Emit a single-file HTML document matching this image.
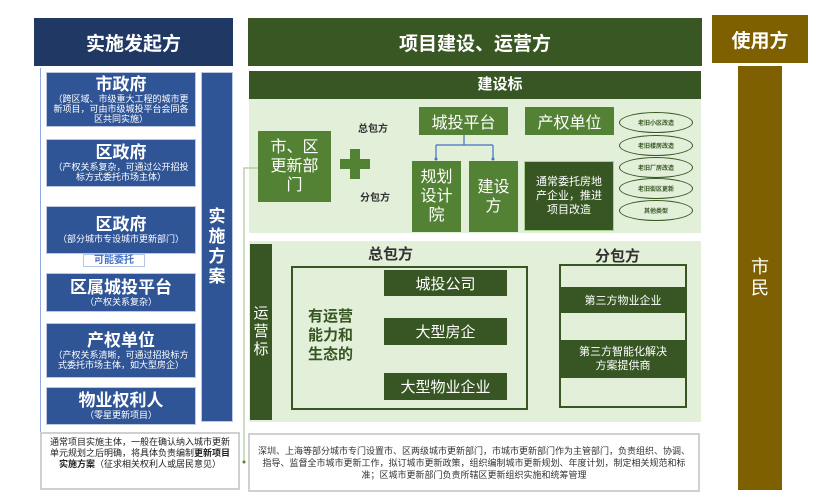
<!DOCTYPE html>
<html><head><meta charset="utf-8"><style>
body{margin:0;width:831px;height:504px;background:#fff;position:relative;overflow:hidden;font-family:"Liberation Sans","Noto Sans CJK SC",sans-serif}
div{position:absolute;box-sizing:border-box}
.c{display:flex;align-items:center;justify-content:center;text-align:center;flex-direction:column}
.b{background:#2f5597;color:#fff;border:1px solid #bcc8e0}
.b .t{font-size:17px;line-height:18px;font-weight:bold}
.b .s{font-size:9px;line-height:10px;padding:0 3px}
.g{background:#548235;color:#fff}
.dg{background:#375623;color:#fff}
.el{border:1.5px solid #375623;border-radius:50%;background:#e2efd9;font-size:6px;color:#375623;font-weight:bold}
</style></head><body>
<!-- headers -->
<div class="c" style="left:34px;top:18px;width:199px;height:48px;background:#203864;color:#fff;font-size:19px;font-weight:bold">实施发起方</div>
<div class="c" style="left:248px;top:18px;width:454px;height:48px;background:#385723;color:#fff;font-size:19px;font-weight:bold">项目建设、运营方</div>
<div class="c" style="left:712px;top:15px;width:96px;height:48px;background:#7f6000;color:#fff;font-size:19px;font-weight:bold">使用方</div>
<div class="c" style="left:738px;top:66px;width:44px;height:424px;background:#7f6000;color:#fff;font-size:18px;line-height:21px">市<br>民</div>

<!-- left -->
<div style="left:40px;top:68px;width:1px;height:364px;background:#8faadc"></div>
<div class="c b" style="left:46px;top:72px;width:150px;height:55px"><span class="t">市政府</span><span class="s">（跨区域、市级重大工程的城市更新项目，可由市级城投平台会同各区共同实施）</span></div>
<div class="c b" style="left:46px;top:139px;width:150px;height:48px"><span class="t">区政府</span><span class="s">（产权关系复杂，可通过公开招投标方式委托市场主体）</span></div>
<div class="c b" style="left:46px;top:206px;width:150px;height:48px"><span class="t">区政府</span><span class="s">（部分城市专设城市更新部门）</span></div>
<div style="left:83px;top:254px;width:62px;height:13px;border:1px solid #b4c7e7;background:#fff;color:#4472c4;font-size:10px;font-weight:bold;text-align:center;line-height:11px">可能委托</div>
<div class="c b" style="left:46px;top:273px;width:150px;height:39px"><span class="t">区属城投平台</span><span class="s">（产权关系复杂）</span></div>
<div class="c b" style="left:46px;top:323px;width:150px;height:55px"><span class="t">产权单位</span><span class="s">（产权关系清晰，可通过招投标方式委托市场主体，如大型房企）</span></div>
<div class="c b" style="left:46px;top:387px;width:150px;height:38px"><span class="t">物业权利人</span><span class="s">（零星更新项目）</span></div>
<div class="c b" style="left:201px;top:72px;width:32px;height:350px;font-size:17px;line-height:20px;font-weight:bold">实<br>施<br>方<br>案</div>
<div style="left:40px;top:432px;width:200px;height:58px;border:2px solid #d0d0d0;font-size:9px;line-height:11px;color:#222;padding:3px 4px;text-align:center">通常项目实施主体，一般在确认纳入城市更新单元规划之后明确，将具体负责编制<b>更新项目实施方案</b>（征求相关权利人或居民意见）</div>

<!-- construction -->
<div style="left:249px;top:71px;width:452px;height:28px;background:#375623;color:#fff;font-size:15px;font-weight:bold;line-height:28px;text-align:center">&nbsp;&nbsp;&nbsp;&nbsp;&nbsp;&nbsp;&nbsp;&nbsp;&nbsp;&nbsp;&nbsp;&nbsp;建设标</div>
<div style="left:249px;top:99px;width:452px;height:134px;background:#e2efd9"></div>
<div class="c g" style="left:258px;top:131px;width:73px;height:71px;font-size:16px;line-height:19px">市、区<br>更新部<br>门</div>
<div style="left:350px;top:149px;width:10px;height:30px;background:#548235"></div>
<div style="left:340px;top:159px;width:30px;height:10px;background:#548235"></div>
<div style="left:358px;top:120px;font-size:10px;font-weight:bold;color:#333">总包方</div>
<div style="left:360px;top:189px;font-size:10px;font-weight:bold;color:#333">分包方</div>
<div class="c g" style="left:419px;top:107px;width:89px;height:28px;font-size:16px">城投平台</div>
<svg style="position:absolute;left:0;top:0" width="831" height="504">
<path d="M464 135V145M436 145H493M436 145V160M493 145V160" stroke="#4472c4" stroke-width="1.2" fill="none"/>
<circle cx="436" cy="159" r="1.5" fill="#4472c4"/><circle cx="493" cy="159" r="1.5" fill="#4472c4"/>
<path d="M258 168H244V462" stroke="#a9c79a" stroke-width="1.2" fill="none"/>
<circle cx="244" cy="462" r="1.5" fill="#548235"/>
<path d="M529 337C540 336 548 336 557 336" stroke="#4472c4" stroke-width="1" fill="none"/>
<path d="M557 334L561 336L557 338Z" fill="#4472c4"/>
</svg>
<div class="c g" style="left:412px;top:161px;width:49px;height:71px;font-size:16px;line-height:19px">规划<br>设计<br>院</div>
<div class="c g" style="left:469px;top:161px;width:49px;height:71px;font-size:16px;line-height:19px">建设<br>方</div>
<div class="c g" style="left:525px;top:107px;width:89px;height:28px;font-size:16px">产权单位</div>
<div class="c dg" style="left:524px;top:161px;width:90px;height:70px;font-size:11px;line-height:14px;border:1px solid #a9d18e">通常委托房地<br>产企业，推进<br>项目改造</div>
<div class="c el" style="left:619px;top:112px;width:74px;height:21px">老旧小区改造</div>
<div class="c el" style="left:619px;top:135px;width:74px;height:21px">老旧楼房改造</div>
<div class="c el" style="left:619px;top:157px;width:74px;height:21px">老旧厂房改造</div>
<div class="c el" style="left:619px;top:178px;width:74px;height:21px">老旧街区更新</div>
<div class="c el" style="left:619px;top:200px;width:74px;height:21px">其他类型</div>

<!-- operations -->
<div style="left:249px;top:241px;width:452px;height:181px;background:#e2efd9"></div>
<div class="c dg" style="left:250px;top:244px;width:22px;height:176px;font-size:15px;line-height:18px">运<br>营<br>标</div>
<div style="left:368px;top:243px;font-size:15px;font-weight:bold;color:#333">总包方</div>
<div style="left:595px;top:245px;font-size:15px;font-weight:bold;color:#333">分包方</div>
<div style="left:291px;top:266px;width:237px;height:144px;border:2px solid #375623"></div>
<div class="c dg" style="left:384px;top:270px;width:123px;height:26px;font-size:15px">城投公司</div>
<div class="c dg" style="left:384px;top:318px;width:123px;height:27px;font-size:15px">大型房企</div>
<div class="c dg" style="left:384px;top:373px;width:123px;height:27px;font-size:15px">大型物业企业</div>
<div style="left:308px;top:307px;font-size:15px;line-height:19px;font-weight:bold;color:#375623">有运营<br>能力和<br>生态的</div>
<div style="left:559px;top:264px;width:128px;height:144px;border:2px solid #375623"></div>
<div class="c dg" style="left:561px;top:287px;width:124px;height:26px;font-size:11px">第三方物业企业</div>
<div class="c dg" style="left:561px;top:340px;width:124px;height:38px;font-size:11px;line-height:14px">第三方智能化解决<br>方案提供商</div>

<div class="c" style="left:248px;top:433px;width:452px;height:59px;border:2px solid #d0d0d0;font-size:9px;line-height:12px;color:#333;padding:0 8px">深圳、上海等部分城市专门设置市、区两级城市更新部门，市城市更新部门作为主管部门，负责组织、协调、指导、监督全市城市更新工作，拟订城市更新政策，组织编制城市更新规划、年度计划，制定相关规范和标准；区城市更新部门负责所辖区更新组织实施和统筹管理</div>
</body></html>
